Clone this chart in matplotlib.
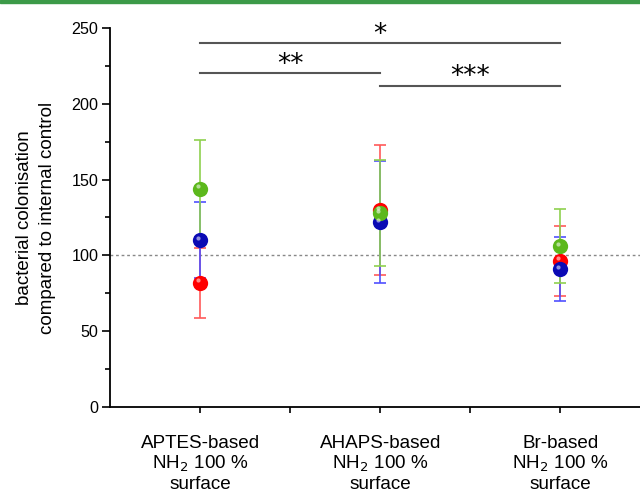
import matplotlib
matplotlib.use('Agg')
import matplotlib.pyplot as plt
from matplotlib.patches import Rectangle
import numpy as np

plt.rcParams['font.family'] = ['Liberation Sans', 'DejaVu Sans']

# Daten
categories = ["APTES-based\nNH$_2$ 100 %\nsurface",
              "AHAPS-based\nNH$_2$ 100 %\nsurface",
              "Br-based\nNH$_2$ 100 %\nsurface"]
red_mean = [82, 130, 96.5]
red_err = [23, 43, 23]
blue_mean = [110, 122, 91]
blue_err = [25, 40, 21]
green_mean = [144, 128, 106]
green_err = [32, 35, 24.5]

# Signifikanz: (von, bis, Höhe, Text)
sig_pairs = [(0, 2, 240, "*"), (0, 1, 220, "**"), (1, 2, 212, "***")]

fig = plt.figure(figsize=(6.4, 4.93), dpi=100)
ax = fig.add_axes([0.172, 0.1744, 0.844, 0.769])

x = np.arange(len(categories)) + 1

series = [
    (red_mean, red_err, '#ff0000', '#ff5a5a'),
    (blue_mean, blue_err, '#0a0ab4', '#5050ff'),
    (green_mean, green_err, '#5cb81c', '#8fd14f'),
]
for mean, err, col, ecol in series:
    ax.errorbar(x, mean, yerr=err, fmt='none', ecolor=ecol, elinewidth=1.2,
                capsize=4, capthick=1.2, zorder=2)
for mean, err, col, ecol in series:
    ax.plot(x, mean, 'o', color=col, markersize=11, markeredgewidth=0, zorder=3)
    # kleiner Glanzpunkt
    ax.plot(x - 0.012, np.array(mean) + 1.5, 'o', color='white', alpha=0.55,
            markersize=3, markeredgewidth=0, zorder=4)

ax.axhline(100, color='#888888', linestyle=(0, (2, 2)), linewidth=1, zorder=1)

for i, j, h, txt in sig_pairs:
    ax.plot([x[i], x[j]], [h, h], color='#555555', linewidth=1.5, clip_on=False)
    ax.text((x[i] + x[j]) / 2, h + 5.5, txt, ha='center', va='center',
            fontsize=19, color='black', family=['DejaVu Sans'])

ax.set_xlim(0.5, 3.5)
ax.set_ylim(0, 250)
ax.set_yticks([0, 50, 100, 150, 200, 250])
ax.set_yticks(np.arange(25, 250, 50), minor=True)
ax.set_xticks(x)
ax.set_xticklabels(categories, fontsize=13.6, linespacing=1.1)
ax.set_xticks([1.5, 2.5], minor=True)
ax.tick_params(axis='y', which='major', direction='out', length=5.5, width=1.2,
               labelsize=11.6, pad=3)
ax.tick_params(axis='x', which='major', direction='out', length=4.5, width=1.2, pad=16)
ax.tick_params(axis='y', which='minor', direction='out', length=3.5, width=1.2)
ax.tick_params(axis='x', which='minor', direction='out', length=4.5, width=1.2)
ax.spines['top'].set_visible(False)
ax.spines['right'].set_visible(False)
ax.spines['left'].set_linewidth(1.3)
ax.spines['bottom'].set_linewidth(1.3)
ax.set_ylabel("bacterial colonisation\ncompared to internal control", fontsize=13.5,
              linespacing=1.45, labelpad=11)

# grüner Rand oben
fig.patches.append(Rectangle((0, 1 - 3 / 493), 1, 3 / 493, transform=fig.transFigure,
                             color='#3c9a48', zorder=10))

fig.savefig('out.png', dpi=100)
